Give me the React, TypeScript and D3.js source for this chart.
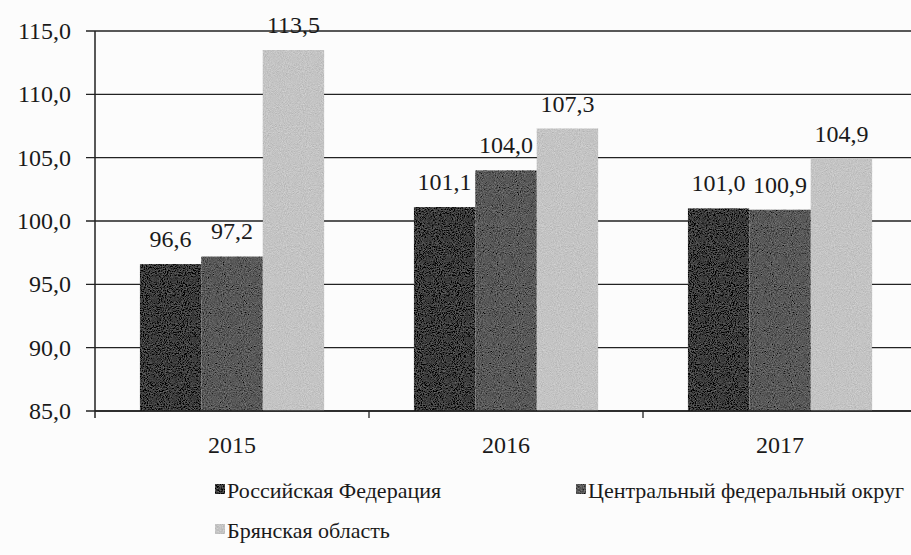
import React, { useRef, useEffect } from "react";
import * as d3 from "d3";

// chart data
const years = ["2015", "2016", "2017"];
const seriesNames = [
  "Российская Федерация",
  "Центральный федеральный округ",
  "Брянская область",
];
const russia = [96.6, 101.1, 101.0];
const central = [97.2, 104.0, 100.9];
const bryansk = [113.5, 107.3, 104.9];
const yTicks = [85, 90, 95, 100, 105, 110, 115];

const colors = ["#3c3c3c", "#595959", "#c4c4c4"];
const fmt = (v: number) => v.toFixed(1).replace(".", ",");

const W = 911;
const H = 555;

const App = () => {
  const svgRef = useRef<SVGSVGElement>(null);

  useEffect(() => {
    const svg = d3.select(svgRef.current);
    svg.selectAll("*").remove();

    const values = [russia, central, bryansk];
    const rows = years.map((year, i) => ({
      year,
      vals: seriesNames.map((name, s) => ({ name, s, value: values[s][i] })),
    }));

    const left = 95, right = 917, top = 31, bottom = 411;
    const font = "Liberation Serif, DejaVu Serif, serif";
    const ink = "#1a1a1a";

    // grain filter to imitate the scanned bars
    const defs = svg.append("defs");
    const f = defs.append("filter").attr("id", "grain")
      .attr("x", 0).attr("y", 0).attr("width", 1).attr("height", 1);
    f.append("feTurbulence").attr("type", "fractalNoise")
      .attr("baseFrequency", 0.95).attr("numOctaves", 2).attr("seed", 4).attr("result", "noise");
    f.append("feColorMatrix").attr("in", "noise").attr("type", "matrix")
      .attr("values", "0.33 0.33 0.33 0 0 0.33 0.33 0.33 0 0 0.33 0.33 0.33 0 0 0 0 0 0 1")
      .attr("result", "gray");
    f.append("feComposite").attr("in", "SourceGraphic").attr("in2", "gray")
      .attr("operator", "arithmetic").attr("k1", 0).attr("k2", 1).attr("k3", 0.5).attr("k4", -0.25)
      .attr("result", "mix");
    f.append("feComposite").attr("in", "mix").attr("in2", "SourceGraphic").attr("operator", "in");

    const y = d3.scaleLinear().domain([85, 115]).range([bottom, top]);
    const x0 = d3.scaleBand().domain(years).range([left, right]).padding(0);
    const x1 = d3.scaleBand().domain(seriesNames).range([0, x0.bandwidth()])
      .paddingInner(0).paddingOuter(0.73);

    // gridlines + y ticks
    svg.append("g").selectAll("line").data(yTicks).join("line")
      .attr("x1", left - 9).attr("x2", W)
      .attr("y1", (d) => y(d)).attr("y2", (d) => y(d))
      .attr("stroke", "#222").attr("stroke-width", 1.4);

    svg.append("g").selectAll("text").data(yTicks).join("text")
      .attr("x", 71).attr("y", (d) => y(d) + 8)
      .attr("text-anchor", "end")
      .attr("font-family", font).attr("font-size", 24).attr("fill", ink)
      .text((d) => fmt(d));

    // bars
    const groups = svg.append("g").selectAll("g").data(rows).join("g")
      .attr("transform", (d) => `translate(${x0(d.year)},0)`);

    groups.selectAll("rect").data((d) => d.vals).join("rect")
      .attr("x", (d) => x1(d.name)!)
      .attr("y", (d) => y(d.value))
      .attr("width", x1.bandwidth())
      .attr("height", (d) => bottom - y(d.value))
      .attr("fill", (d) => colors[d.s])
      .attr("filter", "url(#grain)");

    groups.selectAll("text").data((d) => d.vals).join("text")
      .attr("x", (d) => x1(d.name)! + x1.bandwidth() / 2)
      .attr("y", (d) => y(d.value) - 17)
      .attr("text-anchor", "middle")
      .attr("font-family", font).attr("font-size", 24).attr("fill", ink)
      .text((d) => fmt(d.value));

    // axes lines
    svg.append("line")
      .attr("x1", left).attr("x2", left).attr("y1", top).attr("y2", bottom + 7)
      .attr("stroke", "#222").attr("stroke-width", 1.5);
    svg.append("line")
      .attr("x1", left).attr("x2", W).attr("y1", bottom).attr("y2", bottom)
      .attr("stroke", "#222").attr("stroke-width", 1.5);
    svg.append("g").selectAll("line").data(years.slice(1)).join("line")
      .attr("x1", (d) => x0(d)!).attr("x2", (d) => x0(d)!)
      .attr("y1", bottom).attr("y2", bottom + 7)
      .attr("stroke", "#222").attr("stroke-width", 1.3);

    svg.append("g").selectAll("text").data(years).join("text")
      .attr("x", (d) => x0(d)! + x0.bandwidth() / 2)
      .attr("y", 453)
      .attr("text-anchor", "middle")
      .attr("font-family", font).attr("font-size", 24).attr("fill", ink)
      .text((d) => d);

    // legend
    const legendPos = [
      { x: 215, y: 498 },
      { x: 576, y: 498 },
      { x: 215, y: 538 },
    ];
    const lg = svg.append("g").selectAll("g").data(seriesNames).join("g")
      .attr("transform", (d, i) => `translate(${legendPos[i].x},${legendPos[i].y})`);
    lg.append("rect")
      .attr("x", 0).attr("y", -14).attr("width", 10).attr("height", 10)
      .attr("fill", (d, i) => colors[i]).attr("filter", "url(#grain)");
    lg.append("text")
      .attr("x", 12).attr("y", 0)
      .attr("font-family", font).attr("font-size", 22).attr("fill", ink)
      .text((d) => d);
  }, []);

  return (
    <svg
      ref={svgRef}
      width={W}
      height={H}
      style={{ position: "fixed", left: 0, top: 0, background: "#fcfcfc" }}
    />
  );
};

export default App;
